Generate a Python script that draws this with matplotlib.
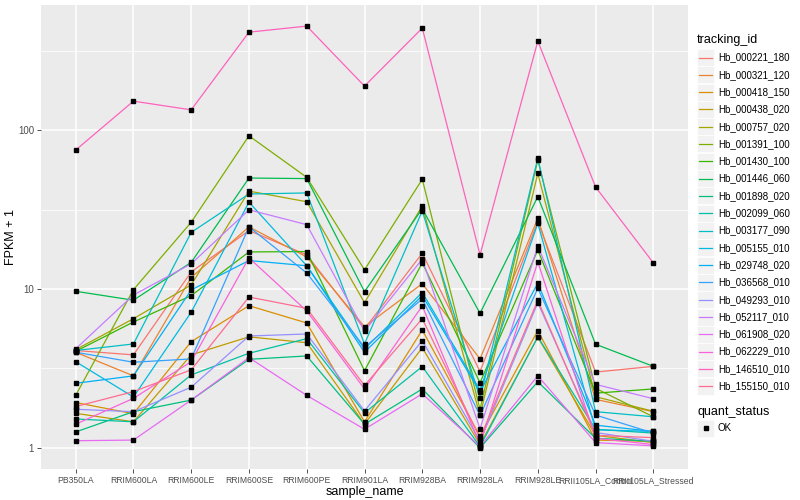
import matplotlib
matplotlib.use("Agg")
import matplotlib.pyplot as plt
from matplotlib.lines import Line2D
from matplotlib.patches import Rectangle
import numpy as np

categories = ["PB350LA", "RRIM600LA", "RRIM600LE", "RRIM600SE", "RRIM600PE",
              "RRIM901LA", "RRIM928BA", "RRIM928LA", "RRIM928LE",
              "RRII105LA_Control", "RRII105LA_Stressed"]

tracking_ids = ["Hb_000221_180", "Hb_000321_120", "Hb_000418_150", "Hb_000438_020",
                "Hb_000757_020", "Hb_001391_100", "Hb_001430_100", "Hb_001446_060",
                "Hb_001898_020", "Hb_002099_060", "Hb_003177_090", "Hb_005155_010",
                "Hb_029748_020", "Hb_036568_010", "Hb_049293_010", "Hb_052117_010",
                "Hb_061908_020", "Hb_062229_010", "Hb_146510_010", "Hb_155150_010"]

hb_000221_180 = [4.1, 3.85, 12.8, 23.3, 16.4, 5.6, 16.8, 3.02, 26.5, 3.0, 3.26]
hb_000321_120 = [4.0, 2.84, 11.8, 24.6, 15.9, 5.79, 10.8, 3.63, 27.8, 2.02, 1.69]
hb_000418_150 = [1.93, 1.64, 4.66, 7.85, 6.11, 1.46, 5.52, 1.18, 5.47, 1.12, 1.1]
hb_000438_020 = [1.65, 1.46, 3.85, 5.0, 4.59, 1.41, 4.27, 1.05, 4.97, 1.2, 1.08]
hb_000757_020 = [4.15, 6.5, 10.6, 41.3, 35.4, 8.2, 33.3, 1.6, 53.4, 2.1, 1.7]
hb_001391_100 = [2.14, 9.9, 26.3, 92.0, 50.4, 13.2, 49.0, 1.75, 64.8, 2.37, 1.57]
hb_001430_100 = [4.05, 6.2, 9.08, 17.1, 17.2, 3.06, 14.6, 2.57, 17.6, 2.21, 2.35]
hb_001446_060 = [9.67, 8.5, 14.7, 49.9, 49.5, 9.62, 32.0, 7.03, 38.1, 4.49, 3.26]
hb_001898_020 = [1.26, 1.69, 2.0, 3.61, 3.79, 1.41, 2.35, 1.0, 2.61, 1.15, 1.1]
hb_002099_060 = [1.52, 1.46, 2.88, 3.94, 4.87, 1.66, 3.25, 1.02, 5.0, 1.31, 1.24]
hb_003177_090 = [4.1, 4.51, 22.7, 39.6, 40.2, 4.51, 31.0, 2.05, 66.5, 1.69, 1.57]
hb_005155_010 = [3.49, 2.09, 7.14, 35.2, 14.0, 4.2, 9.5, 2.31, 25.9, 1.3, 1.27]
hb_029748_020 = [2.55, 2.84, 9.86, 15.1, 14.0, 4.0, 9.08, 2.25, 10.9, 1.39, 1.27]
hb_036568_010 = [4.0, 3.46, 3.63, 24.6, 12.6, 4.3, 8.65, 1.6, 10.1, 1.61, 1.24]
hb_049293_010 = [1.75, 1.69, 2.41, 5.06, 5.21, 1.71, 4.73, 1.1, 8.2, 1.25, 1.1]
hb_052117_010 = [4.2, 9.16, 14.4, 31.5, 25.4, 5.44, 15.4, 1.32, 18.6, 2.51, 2.04]
hb_061908_020 = [1.11, 1.12, 2.0, 3.7, 2.14, 1.31, 2.19, 1.02, 2.84, 1.08, 1.03]
hb_062229_010 = [1.41, 2.05, 3.49, 15.7, 7.27, 2.35, 7.82, 1.05, 14.8, 1.15, 1.05]
hb_146510_010 = [74.8, 152.0, 134.0, 413.0, 451.0, 189.0, 438.0, 16.4, 363.0, 43.8, 14.6]
hb_155150_010 = [1.82, 2.26, 3.1, 8.9, 7.56, 2.47, 6.5, 1.15, 8.5, 1.2, 1.16]

series = [hb_000221_180, hb_000321_120, hb_000418_150, hb_000438_020, hb_000757_020,
          hb_001391_100, hb_001430_100, hb_001446_060, hb_001898_020, hb_002099_060,
          hb_003177_090, hb_005155_010, hb_029748_020, hb_036568_010, hb_049293_010,
          hb_052117_010, hb_061908_020, hb_062229_010, hb_146510_010, hb_155150_010]

colors = ["#F8766D", "#EA8331", "#D89000", "#C09B00", "#A3A500", "#7CAE00", "#39B600",
          "#00BB4E", "#00BF7D", "#00C1A3", "#00BFC4", "#00BAE0", "#00B0F6", "#35A2FF",
          "#9590FF", "#C77CFF", "#E76BF3", "#FA62DB", "#FF62BC", "#FF6C90"]

plt.rcParams['font.family'] = ['Liberation Sans', 'DejaVu Sans']

W, H = 800, 500
fig = plt.figure(figsize=(8, 5), dpi=100)
L, R, T, B = 41, 688, 5, 469
ax = fig.add_axes([L / W, 1 - B / H, (R - L) / W, (B - T) / H])
ax.set_facecolor("#EBEBEB")
for s in ax.spines.values():
    s.set_visible(False)

x = np.arange(1, len(categories) + 1)
ax.set_yscale("log")
ymin, ymax = 1.0, 451.0
lr = np.log10(ymax) - np.log10(ymin)
ax.set_ylim(10 ** (np.log10(ymin) - 0.05 * lr), 10 ** (np.log10(ymax) + 0.05 * lr))
ax.set_xlim(0.4, len(categories) + 0.6)

major = [1, 10, 100]
minor = [10 ** 0.5, 10 ** 1.5, 10 ** 2.5]
for m in minor:
    ax.axhline(m, color="white", lw=0.55, zorder=0)
for m in major:
    ax.axhline(m, color="white", lw=1.1, zorder=0)
for xi in x:
    ax.axvline(xi, color="white", lw=1.1, zorder=0)

for vals, c in zip(series, colors):
    ax.plot(x, vals, color=c, lw=0.9, zorder=2)
for vals in series:
    ax.plot(x, vals, linestyle="none", marker="s", ms=2.3, color="black", zorder=3)

ax.set_yticks(major)
ax.set_yticklabels(["1", "10", "100"])
ax.yaxis.set_minor_locator(matplotlib.ticker.NullLocator())
ax.set_xticks(x)
ax.set_xticklabels(categories)
ax.tick_params(axis="both", which="major", length=3, width=0.6, color="#333333",
               labelsize=7, labelcolor="#4D4D4D", pad=2)
for lab in ax.get_xticklabels():
    lab.set_fontsize(6.2)
ax.set_xlabel("sample_name", fontsize=9, labelpad=1)
ax.set_ylabel("FPKM + 1", fontsize=9)
ax.yaxis.set_label_coords(-(L - 17) / (R - L), 0.5)

# Legend: tracking_id
fig.text(697 / W, 1 - 40 / H, "tracking_id", fontsize=9, va="center", ha="left")
y0 = 57.5
step = 17.3
for i, (name, c) in enumerate(zip(tracking_ids, colors)):
    yc = y0 + i * step
    fig.add_artist(Rectangle((697 / W, 1 - (yc + 8.5) / H), 17 / W, 17 / H,
                             transform=fig.transFigure, facecolor="#F2F2F2",
                             edgecolor="white", lw=0.5))
    fig.add_artist(Line2D([699 / W, 712 / W], [1 - yc / H, 1 - yc / H],
                          transform=fig.transFigure, color=c, lw=0.9))
    fig.text(718 / W, 1 - yc / H, name, fontsize=7, va="center", ha="left")

fig.text(697 / W, 1 - 411.5 / H, "quant_status", fontsize=9, va="center", ha="left")
yc = 428
fig.add_artist(Rectangle((697 / W, 1 - (yc + 8.5) / H), 17 / W, 17 / H,
                         transform=fig.transFigure, facecolor="#F2F2F2",
                         edgecolor="white", lw=0.5))
fig.add_artist(Line2D([705.5 / W], [1 - yc / H], transform=fig.transFigure,
                      marker="s", ms=2.3, color="black", linestyle="none"))
fig.text(718 / W, 1 - yc / H, "OK", fontsize=7, va="center", ha="left")

fig.savefig("out.png", dpi=100)
